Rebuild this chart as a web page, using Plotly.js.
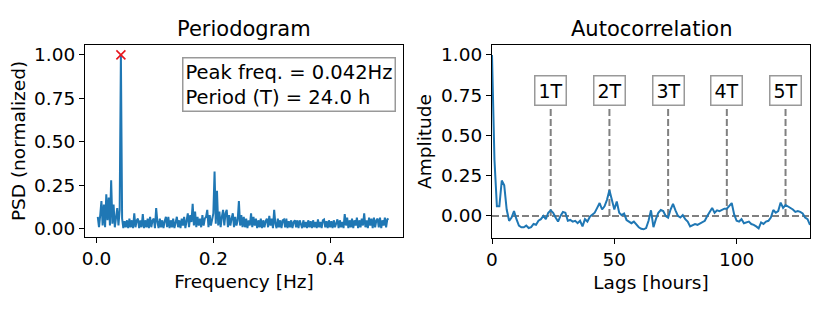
<!DOCTYPE html>
<html><head><meta charset="utf-8">
<script src="https://cdn.plot.ly/plotly-3.0.1.min.js"></script>
<style>html,body{margin:0;padding:0;background:#fff}#chart{width:830px;height:312px}</style>
</head><body><div id="chart"></div>
<script>
// Periodogram (normalized PSD), frequencies k / nSamples for k = 1..240
const nSamples = 480;
const psd = [
0.07,0.01,0.08,0.16,0.02,0.14,0.01,0.20,0.05,0.18,0.02,0.28,0.03,0.14,0.01,0.09,0.12,0.02,0.11,1.00,
0.06,0.005,0.045,0.01,0.05,0.005,0.06,0.01,0.05,0.005,0.09,0.01,0.05,0.06,0.005,0.05,0.01,0.085,0.005,0.05,
0.01,0.06,0.005,0.07,0.01,0.05,0.06,0.005,0.12,0.04,0.005,0.06,0.01,0.05,0.005,0.045,0.07,0.01,0.07,0.005,
0.05,0.01,0.06,0.005,0.05,0.07,0.01,0.05,0.005,0.06,0.02,0.07,0.005,0.05,0.09,0.01,0.08,0.04,0.145,0.02,
0.10,0.01,0.07,0.02,0.06,0.01,0.08,0.02,0.06,0.07,0.11,0.01,0.08,0.02,0.06,0.09,0.33,0.03,0.22,0.02,
0.10,0.01,0.07,0.11,0.02,0.09,0.11,0.01,0.08,0.02,0.06,0.09,0.01,0.07,0.02,0.05,0.16,0.02,0.08,0.01,
0.07,0.01,0.06,0.005,0.05,0.02,0.09,0.01,0.07,0.02,0.06,0.005,0.05,0.01,0.06,0.005,0.05,0.01,0.045,0.06,
0.01,0.075,0.02,0.06,0.005,0.11,0.03,0.005,0.06,0.01,0.05,0.005,0.05,0.055,0.01,0.06,0.005,0.045,0.01,0.05,
0.005,0.04,0.05,0.01,0.05,0.005,0.05,0.02,0.005,0.05,0.01,0.04,0.005,0.05,0.01,0.045,0.005,0.05,0.01,0.04,
0.005,0.055,0.01,0.04,0.005,0.05,0.055,0.01,0.045,0.005,0.05,0.01,0.045,0.005,0.05,0.01,0.04,0.055,0.005,0.05,
0.01,0.04,0.005,0.085,0.02,0.065,0.005,0.05,0.01,0.06,0.005,0.05,0.02,0.065,0.005,0.05,0.01,0.06,0.02,0.09,
0.01,0.05,0.005,0.065,0.02,0.06,0.005,0.065,0.01,0.05,0.06,0.01,0.065,0.005,0.05,0.02,0.065,0.01,0.055,0.06
];
// Autocorrelation at lags 0..130 hours
const acf = [
1.00,0.35,0.06,0.06,0.22,0.19,0.04,-0.03,-0.01,0.03,
-0.02,-0.06,-0.07,-0.07,-0.06,-0.075,-0.07,-0.05,-0.055,-0.03,
-0.02,0.0,-0.02,0.02,0.035,0.02,-0.01,-0.035,0.0,0.025,
0.02,-0.03,-0.025,-0.035,-0.03,-0.045,-0.03,-0.065,-0.02,-0.035,
-0.005,0.01,0.02,0.05,0.08,0.04,0.06,0.10,0.16,0.10,
0.04,0.09,0.02,0.005,0.015,-0.025,-0.035,-0.045,-0.035,-0.056,
-0.07,-0.08,-0.083,-0.075,-0.03,0.035,-0.07,-0.02,0.02,0.037,
0.03,0.0,-0.01,0.04,0.075,0.035,0.0,-0.01,0.005,-0.02,
-0.035,-0.065,-0.055,-0.05,-0.055,-0.045,-0.04,-0.03,0.0,0.03,
0.05,0.02,0.035,0.03,0.04,0.045,0.045,0.06,0.08,0.01,
-0.03,-0.035,-0.02,-0.045,-0.04,-0.035,-0.05,-0.055,-0.065,-0.077,
-0.04,-0.05,-0.035,-0.03,-0.01,0.037,0.02,0.03,0.083,0.05,
0.068,0.06,0.05,0.04,0.025,0.03,0.025,0.015,-0.01,-0.02,
-0.056
];
const peakFreq = 0.042;      // Hz
const periodHours = 24.0;    // h
const harmonicLabels = ['1T','2T','3T','4T','5T'];
const harmonicLags = [24, 48, 72, 96, 120];
const harmonicLineTop = 0.70;
const harmonicLabelY = 0.78;
const leftYTicks = [0, 0.25, 0.5, 0.75, 1.0];
const leftYTickText = ['0.00','0.25','0.50','0.75','1.00'];
const leftXTicks = [0, 0.2, 0.4];
const leftXTickText = ['0.0','0.2','0.4'];
const rightXTicks = [0, 50, 100];
const rightXTickText = ['0','50','100'];

const freqs = psd.map((_, i) => (i + 1) / nSamples);
const lags = acf.map((_, i) => i);
let peakIdx = 0;
psd.forEach((v, i) => { if (v > psd[peakIdx]) peakIdx = i; });

const blue = '#1f77b4';
const FONT = 'DejaVu Sans, sans-serif';
const W = 830, H = 312;
const TICK = 18.5, LABEL = 18.5, TITLE = 21;

const traces = [
  {x: freqs, y: psd, type: 'scatter', mode: 'lines', line: {color: blue, width: 2},
   xaxis: 'x', yaxis: 'y', hoverinfo: 'skip'},
  {x: [freqs[peakIdx]], y: [psd[peakIdx]], type: 'scatter', mode: 'markers',
   marker: {symbol: 'x-thin', size: 9, line: {color: '#e8141c', width: 1.6}},
   xaxis: 'x', yaxis: 'y', hoverinfo: 'skip'},
  {x: [0, 130], y: [0, 0], type: 'scatter', mode: 'lines',
   line: {color: '#808080', width: 2, dash: '7px,3px'}, xaxis: 'x2', yaxis: 'y2', hoverinfo: 'skip'}
];
harmonicLags.forEach(l => {
  traces.push({x: [l, l], y: [0, harmonicLineTop], type: 'scatter', mode: 'lines',
    line: {color: '#808080', width: 2, dash: '7px,3px'}, xaxis: 'x2', yaxis: 'y2', hoverinfo: 'skip'});
});
traces.push({x: lags, y: acf, type: 'scatter', mode: 'lines', line: {color: blue, width: 2},
  xaxis: 'x2', yaxis: 'y2', hoverinfo: 'skip'});

const axisCommon = {
  showline: true, mirror: true, linecolor: '#000', linewidth: 1,
  ticks: 'outside', ticklen: 5, tickwidth: 1, tickcolor: '#000',
  showgrid: false, zeroline: false, automargin: false,
  tickfont: {family: FONT, size: TICK, color: '#000'}, tickmode: 'array', fixedrange: true
};

const annotations = [
  {text: 'Periodogram', xref: 'paper', yref: 'paper', x: (85 + 403) / 2 / W, y: 1 - 29 / H,
   xanchor: 'center', yanchor: 'middle', showarrow: false, font: {family: FONT, size: TITLE, color: '#000'}},
  {text: 'Autocorrelation', xref: 'paper', yref: 'paper', x: (492 + 810) / 2 / W, y: 1 - 29 / H,
   xanchor: 'center', yanchor: 'middle', showarrow: false, font: {family: FONT, size: TITLE, color: '#000'}},
  {text: 'Peak freq. = ' + peakFreq.toFixed(3) + 'Hz<br>Period (T) = ' + periodHours.toFixed(1) + ' h',
   xref: 'paper', yref: 'paper', x: 396 / W, y: 1 - 57 / H, xanchor: 'right', yanchor: 'top',
   align: 'left', showarrow: false, bgcolor: '#fff', bordercolor: '#999', borderwidth: 1.5, borderpad: 2,
   font: {family: FONT, size: 19.5, color: '#000'}}
];
harmonicLabels.forEach((t, i) => {
  annotations.push({text: t, xref: 'x2', yref: 'y2', x: harmonicLags[i], y: harmonicLabelY,
    xanchor: 'center', yanchor: 'middle', showarrow: false, bgcolor: '#fff', bordercolor: '#999',
    borderwidth: 1.5, borderpad: 3, font: {family: FONT, size: 19, color: '#000'}});
});

const layout = {
  width: W, height: H, margin: {l: 0, r: 0, t: 0, b: 0}, showlegend: false,
  paper_bgcolor: '#fff', plot_bgcolor: '#fff', font: {family: FONT, color: '#000'},
  xaxis: Object.assign({}, axisCommon, {domain: [85 / W, 403 / W], range: [-0.0198, 0.5248],
    tickvals: leftXTicks, ticktext: leftXTickText, anchor: 'y',
    title: {text: 'Frequency [Hz]', font: {family: FONT, size: LABEL, color: '#000'}, standoff: 6}}),
  yaxis: Object.assign({}, axisCommon, {domain: [1 - 237 / H, 1 - 45 / H], range: [-0.046, 1.057],
    tickvals: leftYTicks, ticktext: leftYTickText, anchor: 'x',
    title: {text: 'PSD (normalized)', font: {family: FONT, size: LABEL, color: '#000'}, standoff: 3}}),
  xaxis2: Object.assign({}, axisCommon, {domain: [492 / W, 810 / W], range: [0, 130],
    tickvals: rightXTicks, ticktext: rightXTickText, anchor: 'y2',
    title: {text: 'Lags [hours]', font: {family: FONT, size: LABEL, color: '#000'}, standoff: 6}}),
  yaxis2: Object.assign({}, axisCommon, {domain: [1 - 238 / H, 1 - 45 / H], range: [-0.137, 1.062],
    tickvals: leftYTicks, ticktext: leftYTickText, anchor: 'x2',
    title: {text: 'Amplitude', font: {family: FONT, size: LABEL, color: '#000'}, standoff: 4}}),
  annotations: annotations
};

Plotly.newPlot('chart', traces, layout, {displayModeBar: false, staticPlot: true});
</script>
</body></html>
